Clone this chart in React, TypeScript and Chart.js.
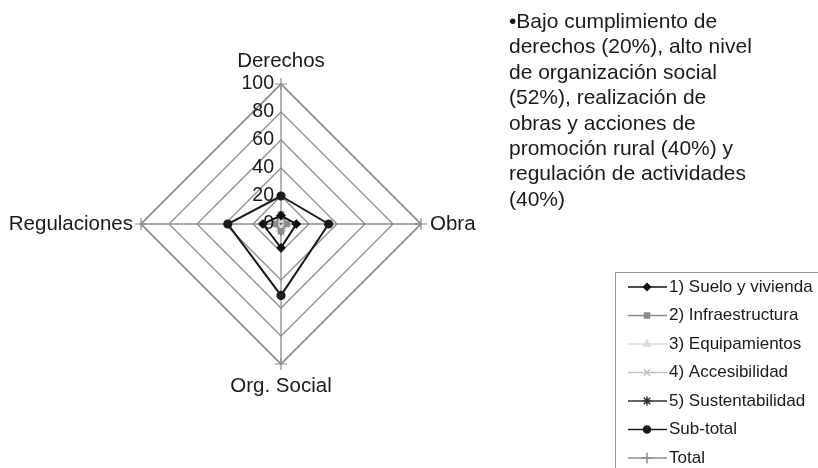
import React, { useEffect, useRef } from 'react';
import { Chart, registerables } from 'chart.js';
import { drawPoint } from 'chart.js/helpers';

Chart.register(...registerables);

const axisLabels = ['Derechos', 'Obra', 'Org. Social', 'Regulaciones'];
const tickValues = [0, 20, 40, 60, 80, 100];

const seriesNames = [
  '1) Suelo y vivienda',
  '2) Infraestructura',
  '3) Equipamientos',
  '4) Accesibilidad',
  '5) Sustentabilidad',
  'Sub-total',
  'Total',
];
const sueloVivienda = [6, 11, 17, 13];
const infraestructura = [7, 4, 5, 4];
const equipamientos = [3, 3, 4, 3];
const accesibilidad = [5, 5, 6, 5];
const sustentabilidad = [6, 3, 5, 3];
const subTotal = [20, 34, 51, 38];
const total = [100, 100, 100, 100];

const seriesValues = [sueloVivienda, infraestructura, equipamientos, accesibilidad, sustentabilidad, subTotal, total];
const seriesColors = ['#111111', '#8a8a8a', '#dcdcdc', '#c2c2c2', '#333333', '#1c1c1c', '#8c8c8c'];
const seriesMarkers = ['rectRot', 'rect', 'triangle', 'crossRot', 'star', 'circle', 'cross'];
const seriesRadius = [4, 3.5, 4, 4.5, 4.5, 4, 6];
const legendRadius = [3.5, 3.5, 4, 4.5, 4.5, 3.5, 5.5];

const noteLines = [
  '\u2022Bajo cumplimiento de',
  'derechos (20%), alto nivel',
  'de organización social',
  '(52%), realización de',
  'obras y acciones de',
  'promoción rural (40%) y',
  'regulación de actividades',
  '(40%)',
];

const FONT = "'Liberation Sans', Arial, sans-serif";

const labelsPlugin = {
  id: 'customLabels',
  afterDraw(chart: any) {
    const ctx = chart.ctx;
    const scale = chart.scales.r;
    ctx.save();
    ctx.fillStyle = '#1a1a1a';
    // axis labels
    ctx.font = `20.5px ${FONT}`;
    axisLabels.forEach((lab, i) => {
      const p = scale.getPointPositionForValue(i, 100);
      ctx.textBaseline = 'middle';
      if (i === 0) {
        ctx.textAlign = 'center';
        ctx.fillText(lab, p.x, p.y - 23);
      } else if (i === 1) {
        ctx.textAlign = 'left';
        ctx.fillText(lab, p.x + 9, p.y);
      } else if (i === 2) {
        ctx.textAlign = 'center';
        ctx.fillText(lab, p.x, p.y + 22);
      } else {
        ctx.textAlign = 'right';
        ctx.fillText(lab, p.x - 8, p.y);
      }
    });
    // tick labels
    ctx.font = `19.5px ${FONT}`;
    ctx.textAlign = 'right';
    ctx.textBaseline = 'middle';
    tickValues.forEach((v) => {
      const d = scale.getDistanceFromCenterForValue(v);
      ctx.fillText(String(v), scale.xCenter - 7, scale.yCenter - d);
    });
    // legend
    const lx = 615.5;
    const ly = 272.5;
    ctx.strokeStyle = '#9a9a9a';
    ctx.lineWidth = 1;
    ctx.strokeRect(lx, ly, 220, 220);
    ctx.font = `17px ${FONT}`;
    ctx.textAlign = 'left';
    ctx.textBaseline = 'middle';
    chart.data.datasets.forEach((ds: any, i: number) => {
      const y = 287 + i * 28.5;
      ctx.strokeStyle = ds.borderColor;
      ctx.fillStyle = ds.pointBackgroundColor;
      ctx.lineWidth = 1.5;
      ctx.beginPath();
      ctx.moveTo(628, y);
      ctx.lineTo(667, y);
      ctx.stroke();
      ctx.strokeStyle = ds.pointBorderColor;
      drawPoint(ctx, { pointStyle: ds.pointStyle, radius: legendRadius[i], rotation: 0, borderWidth: 1.3 }, 647, y);
      ctx.fillStyle = '#1a1a1a';
      ctx.fillText(ds.label, 669, y);
    });
    ctx.restore();
  },
};

export default function App() {
  const ref = useRef<HTMLCanvasElement | null>(null);
  useEffect(() => {
    document.body.style.margin = '0';
    const canvas = ref.current;
    if (!canvas) return;
    const chart = new Chart(canvas, {
      type: 'radar',
      data: {
        labels: axisLabels,
        datasets: seriesNames.map((name, i) => ({
          label: name,
          data: seriesValues[i],
          borderColor: seriesColors[i],
          backgroundColor: 'transparent',
          pointBackgroundColor: seriesColors[i],
          pointBorderColor: seriesColors[i],
          pointStyle: seriesMarkers[i] as any,
          pointRadius: seriesRadius[i],
          pointBorderWidth: 1.2,
          borderWidth: i === 6 ? 1.5 : 2,
          fill: false,
          clip: false as any,
        })),
      },
      options: {
        responsive: false,
        animation: false,
        devicePixelRatio: 1,
        layout: { padding: { left: 141, right: 397, top: 84, bottom: 104 } },
        plugins: { legend: { display: false }, tooltip: { enabled: false } },
        elements: { line: { tension: 0 } },
        scales: {
          r: {
            min: 0,
            max: 100,
            ticks: { stepSize: 20, display: false },
            pointLabels: { display: false },
            grid: { color: '#8c8c8c', lineWidth: 1.3 },
            angleLines: { color: '#8c8c8c', lineWidth: 1.3 },
          },
        },
      },
      plugins: [labelsPlugin],
    });
    return () => chart.destroy();
  }, []);

  return (
    <div style={{ position: 'absolute', left: 0, top: 0, width: 818, height: 468, background: '#fff', overflow: 'hidden' }}>
      <canvas ref={ref} width={818} height={468} style={{ position: 'absolute', left: 0, top: 0 }} />
      <div
        style={{
          position: 'absolute',
          left: 509,
          top: 8,
          fontFamily: FONT,
          fontSize: 21,
          lineHeight: '25.4px',
          color: '#1a1a1a',
          whiteSpace: 'nowrap',
        }}
      >
        {noteLines.map((l, i) => (
          <div key={i}>{l}</div>
        ))}
      </div>
    </div>
  );
}
